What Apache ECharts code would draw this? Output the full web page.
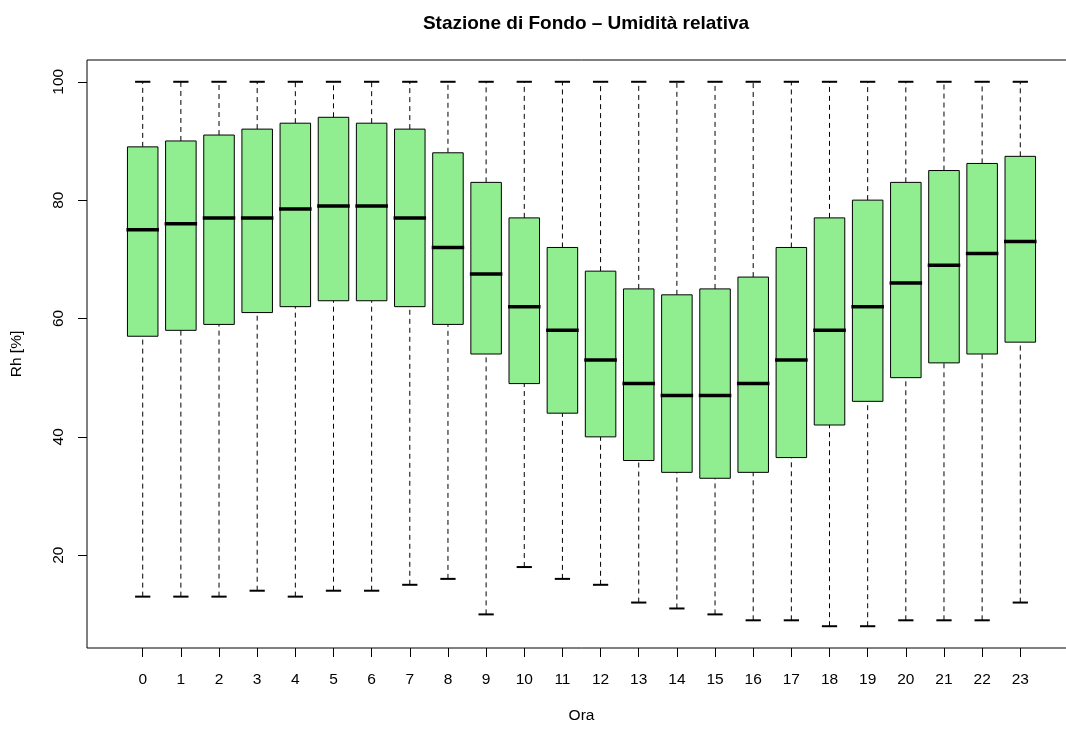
<!DOCTYPE html>
<html>
<head>
<meta charset="utf-8">
<script src="https://cdn.jsdelivr.net/npm/echarts@6/dist/echarts.min.js"></script>
<style>
html,body{margin:0;padding:0;background:#fff;overflow:hidden;width:1066px;height:729px;}
#chart{width:1076px;height:729px;}
</style>
</head>
<body>
<div id="chart"></div>
<script>
// Hours (categories)
const hours = [0,1,2,3,4,5,6,7,8,9,10,11,12,13,14,15,16,17,18,19,20,21,22,23];
// Boxplot statistics
const whiskerLow  = [13,13,13,14,13,14,14,15,16,10,18,16,15,12,11,10,9,9,8,8,9,9,9,12];
const q1          = [57,58,59,61,62,63,63,62,59,54,49,44,40,36,34,33,34,36.5,42,46,50,52.5,54,56];
const median      = [75,76,77,77,78.5,79,79,77,72,67.5,62,58,53,49,47,47,49,53,58,62,66,69,71,73];
const q3          = [89,90,91,92,93,94,93,92,88,83,77,72,68,65,64,65,67,72,77,80,83,85,86.2,87.4];
const whiskerHigh = [100,100,100,100,100,100,100,100,100,100,100,100,100,100,100,100,100,100,100,100,100,100,100,100];
// Tick labels
const yTicks = [20,40,60,80,100];
const xTicks = hours;

const data = hours.map((h,i)=>[h, whiskerLow[i], q1[i], median[i], q3[i], whiskerHigh[i]]);

const FONT = '"Liberation Sans", Arial, Helvetica, sans-serif';
const chart = echarts.init(document.getElementById('chart'), null, {renderer:'canvas'});

chart.setOption({
  animation:false,
  backgroundColor:'#fff',
  title:{
    text:'Stazione di Fondo – Umidità relativa',
    left:581, top:9, textAlign:'center',
    textStyle:{fontFamily:FONT, fontSize:19, fontWeight:'bold', color:'#000'}
  },
  grid:{left:87, top:60, right:0, bottom:80, show:true, borderColor:'#000', borderWidth:1, backgroundColor:'transparent'},
  xAxis:{
    type:'value', min:-1.46, max:24.46,
    name:'Ora', nameLocation:'middle', nameGap:60,
    nameTextStyle:{fontFamily:FONT, fontSize:15.5, color:'#000'},
    axisLine:{show:false, onZero:false},
    splitLine:{show:false},
    axisTick:{show:true, length:9, customValues:xTicks, lineStyle:{color:'#000'}},
    axisLabel:{customValues:xTicks, margin:24, fontFamily:FONT, fontSize:15.5, color:'#000', formatter:v=>String(Math.round(v))}
  },
  yAxis:{
    type:'value', min:4.32, max:103.68,
    name:'Rh [%]', nameLocation:'middle', nameGap:62, nameRotate:90,
    nameTextStyle:{fontFamily:FONT, fontSize:15.5, color:'#000'},
    axisLine:{show:false, onZero:false},
    splitLine:{show:false},
    axisTick:{show:true, length:9, customValues:yTicks, lineStyle:{color:'#000'}},
    axisLabel:{customValues:yTicks, rotate:90, margin:20, fontFamily:FONT, fontSize:15.5, color:'#000', formatter:v=>String(Math.round(v))}
  },
  series:[{
    type:'custom',
    data:data,
    encode:{x:0, y:[1,2,3,4,5]},
    clip:false,
    renderItem:function(params, api){
      const x = api.value(0);
      const lo = api.coord([x, api.value(1)]);
      const b1 = api.coord([x, api.value(2)]);
      const md = api.coord([x, api.value(3)]);
      const b3 = api.coord([x, api.value(4)]);
      const hi = api.coord([x, api.value(5)]);
      const bw = api.size([1,0])[0]*0.8;
      const cw = bw*0.5;
      const cx = md[0];
      const dash = {stroke:'#000', lineWidth:1, lineDash:[5,4], fill:null};
      const cap = {stroke:'#000', lineWidth:2, fill:null};
      return {type:'group', children:[
        {type:'line', shape:{x1:cx,y1:lo[1],x2:cx,y2:b1[1]}, style:dash},
        {type:'line', shape:{x1:cx,y1:b3[1],x2:cx,y2:hi[1]}, style:dash},
        {type:'line', shape:{x1:cx-cw/2,y1:lo[1],x2:cx+cw/2,y2:lo[1]}, style:cap},
        {type:'line', shape:{x1:cx-cw/2,y1:hi[1],x2:cx+cw/2,y2:hi[1]}, style:cap},
        {type:'rect', shape:{x:cx-bw/2, y:b3[1], width:bw, height:b1[1]-b3[1]}, style:{fill:'#90EE90', stroke:'#000', lineWidth:1}},
        {type:'line', shape:{x1:cx-bw/2-1,y1:md[1],x2:cx+bw/2+1,y2:md[1]}, style:{stroke:'#000', lineWidth:3.5}}
      ]};
    }
  }]
});
</script>
</body>
</html>
